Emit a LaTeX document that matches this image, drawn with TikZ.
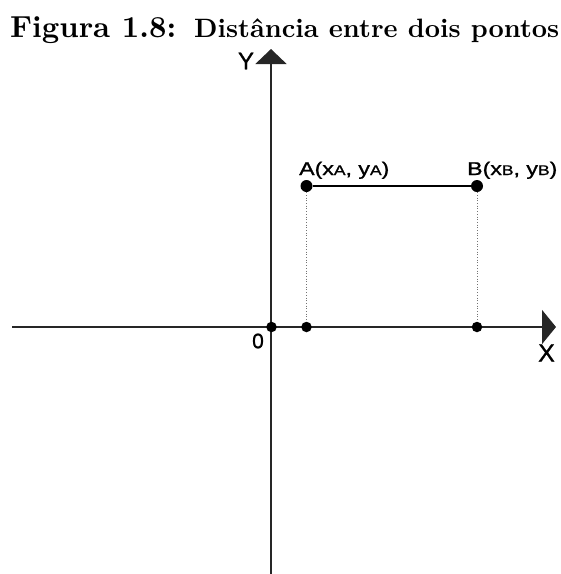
\documentclass[tikz,border=0pt]{standalone}
\usepackage{fontspec}
\newfontfamily\labfont{Liberation Sans}[FakeBold=1]
\usetikzlibrary{arrows.meta}
\tikzset{
  axis/.style={line width=1.8pt, black!85},
  dot/.style={circle, fill=black, inner sep=0pt, minimum size=12pt},
  footdot/.style={circle, fill=black, inner sep=0pt, minimum size=10.5pt},
  guide/.style={black!55, line width=0.7pt, dotted},
  seg/.style={line width=1.8pt, black},
  lab/.style={font=\labfont\fontsize{18.5}{20}\selectfont, inner sep=0pt},
  axlab/.style={inner sep=0pt},
  ttl/.style={inner sep=0pt, anchor=base west},
}
\newcommand{\smallsub}[1]{{\fontsize{14}{15}\selectfont #1}}
\begin{document}
\begin{tikzpicture}[x=1pt,y=-1pt]
\useasboundingbox (0,0) rectangle (561,574);
% title
\node[ttl] (title1) at (10,37)
  {\resizebox{166pt}{!}{\bfseries Figura 1.8:}};
\node[ttl] (title2) at (194,37)
  {\resizebox{365pt}{!}{\bfseries Distância entre dois pontos}};
% axes
\coordinate (xl) at (12,327);
\coordinate (xr) at (556,327);
\coordinate (yb) at (271,574);
\coordinate (yt) at (271,49);
\draw[axis, -{Triangle[width=34pt,length=14pt]}] (xl) -- (xr);
\draw[axis, -{Triangle[width=31pt,length=15pt]}] (yb) -- (yt);
% points
\node[footdot] (O) at (271.5,327) {};
\node[footdot] (Ax) at (306.5,327) {};
\node[footdot] (Bx) at (477,327) {};
\node[dot] (A) at (306.5,186) {};
\node[dot] (B) at (477,186) {};
\draw[seg] (A) -- (B);
\draw[guide] (A) -- (Ax);
\draw[guide] (B) -- (Bx);
% labels
\node[lab, anchor=base west] (Alab) at (299,175) {\scalebox{1.25}[1]{A(x\smallsub{A}, y\smallsub{A})}};
\node[lab, anchor=base west] (Blab) at (467,175) {\scalebox{1.25}[1]{B(x\smallsub{B}, y\smallsub{B})}};
\node[axlab, font=\labfont\fontsize{21}{22}\selectfont] (zero) at (258,341) {0};
\node[axlab, font=\labfont\fontsize{25}{26}\selectfont] (Xlab) at (546.5,353) {X};
\node[axlab, font=\labfont\fontsize{24}{25}\selectfont] (Ylab) at (246,61) {Y};
\end{tikzpicture}
\end{document}
